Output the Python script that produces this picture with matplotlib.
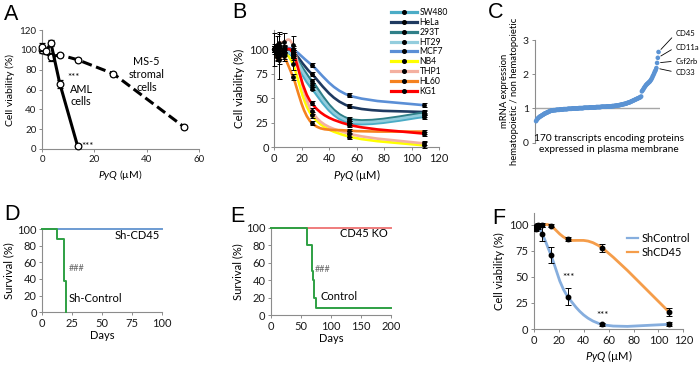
import numpy as np
import matplotlib
matplotlib.use('Agg')
import matplotlib.pyplot as plt
from matplotlib.path import Path
from matplotlib.patches import PathPatch

plt.rcParams['font.family'] = ['Lato', 'DejaVu Sans']
plt.rcParams['mathtext.fontset'] = 'custom'
plt.rcParams['mathtext.rm'] = 'Lato'
plt.rcParams['mathtext.it'] = 'Lato:italic'

# ---------------- data ----------------
# Panel A
aml_x = [0, 1.7, 3.4, 6.8, 13.6]
aml_y = [103, 99, 107, 66, 3]
aml_err = [4, 3, 3, 4, 2]
ms5_x = [0, 3.4, 6.8, 13.6, 27.2, 54.4]
ms5_y = [100, 93, 95, 90, 76, 22]
ms5_err = [3, 4, 2, 2, 2, 2]

# Panel B
b_dose = [0, 1.7, 3.4, 6.8, 13.6, 27.2, 54.4, 108.8]
b_names = ['SW480', 'HeLa', '293T', 'HT29', 'MCF7', 'NB4', 'THP1', 'HL60', 'KG1']
b_colors = ['#4BACC6', '#1F3A60', '#2F7F88', '#93CDDD', '#5B8FD6',
            '#FFFF00', '#F4B0A0', '#F5821F', '#FF0000']
b_sw480 = [100, 96, 94, 97, 92, 60, 25, 31]
b_hela = [100, 98, 102, 100, 98, 75, 42, 36]
b_293t = [100, 97, 100, 99, 96, 68, 29, 35]
b_ht29 = [100, 95, 97, 96, 94, 64, 27, 33]
b_mcf7 = [100, 102, 98, 100, 100, 84, 53, 43]
b_nb4 = [100, 96, 93, 96, 85, 33, 11, 2]
b_thp1 = [100, 104, 106, 107, 104, 37, 14, 4]
b_hl60 = [100, 92, 89, 93, 72, 25, 17, 16]
b_kg1 = [100, 101, 99, 98, 96, 45, 23, 14]
b_err_small = [3, 3, 4, 3, 3, 2, 2, 2]
b_err_nb4 = [17, 8, 23, 8, 6, 3, 3, 3]
b_err_thp1 = [5, 10, 12, 10, 10, 3, 3, 2]

# Panel C (170 transcripts, sorted ratio)
c_ratio = [0.63, 0.67, 0.70, 0.72, 0.74, 0.76, 0.77, 0.78, 0.80, 0.81, 0.82, 0.84, 0.85, 0.86,
           0.87, 0.88, 0.89, 0.90, 0.91, 0.92, 0.93,
           0.94, 0.94, 0.94, 0.95, 0.95, 0.95, 0.95, 0.96, 0.96, 0.96, 0.96, 0.96, 0.97, 0.97,
           0.97, 0.97, 0.97, 0.98, 0.98, 0.98, 0.98, 0.98, 0.98, 0.99, 0.99, 0.99, 0.99, 0.99,
           0.99, 1.00, 1.00, 1.00, 1.00, 1.00, 1.00, 1.00, 1.00,
           1.00, 1.01, 1.01, 1.01, 1.01, 1.01, 1.01, 1.01, 1.02, 1.02, 1.02, 1.02, 1.02, 1.02,
           1.02, 1.02, 1.03, 1.03, 1.03, 1.03, 1.03, 1.03, 1.03,
           1.03, 1.03, 1.04, 1.04, 1.04, 1.04, 1.04, 1.04, 1.04, 1.05, 1.05, 1.05, 1.05, 1.05,
           1.05, 1.05, 1.05, 1.06, 1.06, 1.06, 1.06, 1.06, 1.06,
           1.06, 1.07, 1.07, 1.07, 1.07, 1.08, 1.08, 1.08, 1.09, 1.09, 1.09, 1.10, 1.10,
           1.11, 1.11, 1.12, 1.12, 1.13, 1.13, 1.14, 1.14, 1.15, 1.16,
           1.17, 1.17, 1.18, 1.19, 1.20, 1.21, 1.22, 1.23, 1.24,
           1.25, 1.26, 1.27, 1.28, 1.29, 1.30, 1.31, 1.32, 1.33, 1.35,
           1.50, 1.53, 1.56, 1.60, 1.63, 1.66, 1.69, 1.71, 1.73, 1.75, 1.77, 1.79, 1.82, 1.85,
           1.89, 1.94, 1.98, 2.03, 2.08, 2.12,
           2.18, 2.33, 2.48, 2.65]
c_labels = ['CD33', 'Csf2rb', 'CD11a', 'CD45']
c_label_idx = [166, 167, 168, 169]

# Panel D
d_ctrl_days = [0, 12.5, 18.3, 19.5]
d_ctrl_surv = [100, 87.5, 37.5, 0]
d_cd45_days = [0, 100]
d_cd45_surv = [100, 100]

# Panel E
e_ctrl_days = [0, 60, 68, 70, 72, 75, 200]
e_ctrl_surv = [100, 80, 50, 40, 20, 8, 8]
e_ko_days = [0, 200]
e_ko_surv = [100, 100]

# Panel F
f_dose = [1.7, 3.4, 6.8, 13.6, 27.2, 54.4, 108.8]
f_shctrl = [96, 98, 91, 71, 31, 4.5, 4.5]
f_shctrl_err = [2, 2, 7, 8, 8, 1.5, 2]
f_shcd45 = [99, 100, 100, 99, 86, 78, 16]
f_shcd45_err = [1, 2, 2, 1.5, 2, 4, 4]

# ---------------- helpers ----------------
W, H = 700, 370
fig = plt.figure(figsize=(7, 3.7), dpi=100)
TXT = '#1a1a1a'


def add_ax(l, t, r, b):
    return fig.add_axes([l / W, 1 - b / H, (r - l) / W, (b - t) / H])


def style(ax, size=7):
    for s in ['top', 'right']:
        ax.spines[s].set_visible(False)
    for s in ['left', 'bottom']:
        ax.spines[s].set_color('#8C8C8C')
        ax.spines[s].set_linewidth(0.8)
    ax.tick_params(direction='out', length=2.5, width=0.7, color='#8C8C8C',
                   labelsize=size, pad=1.5, labelcolor=TXT)


def smooth_line(ax, x, y, color, lw, z=2):
    P = np.column_stack([x, y]).astype(float)
    verts = [P[0]]
    codes = [Path.MOVETO]
    n = len(P)
    for i in range(n - 1):
        p0 = P[i - 1] if i > 0 else P[i]
        p1, p2 = P[i], P[i + 1]
        p3 = P[i + 2] if i + 2 < n else P[i + 1]
        verts += [p1 + (p2 - p0) / 6, p2 - (p3 - p1) / 6, p2]
        codes += [Path.CURVE4] * 3
    patch = PathPatch(Path(verts, codes), fill=False, edgecolor=color, lw=lw,
                      zorder=z, capstyle='round', joinstyle='round')
    ax.add_patch(patch)


def panel_letter(x, y, s):
    fig.text(x / W, 1 - y / H, s, fontsize=15.5, family='Liberation Sans',
             ha='left', va='center')


pyq = r'$\mathit{PyQ}$ (µM)'

# ---------------- A ----------------
axA = add_ax(42, 30, 199, 149)
style(axA, 7)
axA.errorbar(ms5_x, ms5_y, yerr=ms5_err, color='k', lw=2.2, ls=(0, (3.3, 1.5)),
             marker='o', mfc='white', mec='k', ms=4.8, mew=0.9, capsize=2,
             elinewidth=0.7, capthick=0.7, clip_on=False, zorder=3)
axA.errorbar(aml_x, aml_y, yerr=aml_err, color='k', lw=2.2, marker='o', mfc='white',
             mec='k', ms=4.8, mew=0.9, capsize=2, elinewidth=0.7, capthick=0.7,
             clip_on=False, zorder=4)
axA.set_xlim(0, 60)
axA.set_ylim(0, 120)
axA.set_xticks([0, 20, 40, 60])
axA.set_yticks(range(0, 121, 20))
axA.set_xlabel(pyq, fontsize=7.5, labelpad=3)
axA.set_ylabel('Cell viability (%)', fontsize=7.5, labelpad=3)
axA.text(9.8, 72, '***', fontsize=7, ha='left', va='center')
axA.text(15.2, 3, '***', fontsize=7, ha='left', va='center')
axA.text(15, 54, 'AML\ncells', fontsize=7.8, ha='center', va='center', linespacing=1.2)
axA.text(40, 75, 'MS-5\nstromal\ncells', fontsize=7.8, ha='center', va='center',
         linespacing=1.2)
panel_letter(4, 15, 'A')

# ---------------- B ----------------
axB = add_ax(274.3, 29.7, 439, 147.3)
style(axB, 8)
b_series = [b_sw480, b_hela, b_293t, b_ht29, b_mcf7, b_nb4, b_thp1, b_hl60, b_kg1]
b_errs = [b_err_small, b_err_small, b_err_small, b_err_small, b_err_small,
          b_err_nb4, b_err_thp1, b_err_small, b_err_small]
handles = []
for name, col, vals, err in zip(b_names, b_colors, b_series, b_errs):
    smooth_line(axB, b_dose, vals, col, 1.9)
    axB.errorbar(b_dose, vals, yerr=err, fmt='o', color='k', ms=2.4, elinewidth=0.7,
                 capsize=1.8, capthick=0.7, clip_on=False, zorder=4)
    h, = axB.plot([], [], color=col, lw=2.3, marker='o', mfc='k', mec='k', ms=2.6)
    handles.append(h)
axB.set_xlim(0, 120)
axB.set_ylim(0, 120)
axB.set_xticks(range(0, 121, 20))
axB.set_yticks([0, 25, 50, 75, 100])
axB.set_xlabel(pyq, fontsize=8, labelpad=2)
axB.set_ylabel('Cell viability (%)', fontsize=8.3, labelpad=3)
axB.legend(handles, b_names, loc='upper left', bbox_to_anchor=(391 / W, 1 - 8 / H),
           bbox_transform=fig.transFigure, frameon=False, fontsize=6.2,
           handlelength=3.0, handletextpad=0.3, labelspacing=0.1, borderpad=0,
           borderaxespad=0)
panel_letter(232, 13, 'B')

# ---------------- C ----------------
axC = add_ax(535, 40, 660, 142.7)
for s in ['top', 'right', 'bottom']:
    axC.spines[s].set_visible(False)
axC.spines['left'].set_color('#8C8C8C')
axC.spines['left'].set_linewidth(0.8)
axC.tick_params(axis='y', direction='out', length=2.5, width=0.7, color='#8C8C8C',
                labelsize=7.5, pad=2, labelcolor=TXT)
axC.tick_params(axis='x', bottom=False, labelbottom=False)
c_idx = np.arange(len(c_ratio))
axC.axhline(1, color='#A6A6A6', lw=1.0, zorder=1)
axC.scatter(c_idx, c_ratio, s=11, color='#5B93D3', edgecolors='none', zorder=3,
            clip_on=False)
axC.set_xlim(-1.5, 171)
axC.set_ylim(0, 3)
axC.set_yticks([0, 1, 2, 3])
axC.set_ylabel('mRNA expression\nhematopoietic / non hematopoietic', fontsize=6.8,
               labelpad=3, linespacing=1.1)
axC.text(0.59, -0.01, '170 transcripts encoding proteins\nexpressed in plasma membrane',
         transform=axC.transAxes, fontsize=7.3, ha='center', va='center',
         linespacing=1.25)
c_text_y = {'CD45': 33.3, 'CD11a': 47, 'Csf2rb': 61, 'CD33': 72.3}
for lab, i in zip(c_labels, c_label_idx):
    axC.annotate(lab, xy=(c_idx[i], c_ratio[i]), xytext=(676, H - c_text_y[lab]),
                 textcoords='figure pixels', fontsize=5.5, ha='left', va='center',
                 arrowprops=dict(arrowstyle='-', color='k', lw=0.6, shrinkA=1.5,
                                 shrinkB=2.5, relpos=(0, 0.5)))
panel_letter(488, 13, 'C')

# ---------------- D ----------------
axD = add_ax(42.3, 229, 162.3, 312.3)
style(axD, 8)
axD.plot(d_cd45_days, d_cd45_surv, color='#6C9BD2', lw=1.4, clip_on=False, zorder=3)
axD.step(d_ctrl_days, d_ctrl_surv, where='post', color='#2EA043', lw=1.4,
         clip_on=False, zorder=4)
axD.set_xlim(0, 100)
axD.set_ylim(0, 100)
axD.set_xticks([0, 25, 50, 75, 100])
axD.set_yticks(range(0, 101, 20))
axD.set_xlabel('Days', fontsize=8, labelpad=1)
axD.set_ylabel('Survival (%)', fontsize=8, labelpad=2)
axD.text(98, 92, 'Sh-CD45', fontsize=8, ha='right', va='center')
axD.text(22.3, 16, 'Sh-Control', fontsize=8, ha='left', va='center')
axD.text(22.3, 52, '###', fontsize=6.5, color='#666666', ha='left', va='center')
panel_letter(4, 215, 'D')

# ---------------- E ----------------
axE = add_ax(271, 227.7, 391, 315)
style(axE, 8)
axE.plot(e_ko_days, e_ko_surv, color='#EF7C7C', lw=1.4, clip_on=False, zorder=3)
axE.step(e_ctrl_days, e_ctrl_surv, where='post', color='#2EA043', lw=1.4,
         clip_on=False, zorder=4)
axE.set_xlim(0, 200)
axE.set_ylim(0, 100)
axE.set_xticks([0, 50, 100, 150, 200])
axE.set_yticks(range(0, 101, 20))
axE.set_xlabel('Days', fontsize=8, labelpad=1)
axE.set_ylabel('Survival (%)', fontsize=8, labelpad=2)
axE.text(194, 92.8, 'CD45 KO', fontsize=8, ha='right', va='center')
axE.text(82.8, 21, 'Control', fontsize=8, ha='left', va='center')
axE.text(73, 52, '###', fontsize=6.5, color='#666666', ha='left', va='center')
panel_letter(230, 216, 'E')

# ---------------- F ----------------
axF = add_ax(534, 213.3, 683.3, 329)
style(axF, 8)
smooth_line(axF, f_dose, f_shctrl, '#86AEDE', 2.0)
smooth_line(axF, f_dose, f_shcd45, '#F59D4A', 2.0)
axF.errorbar(f_dose, f_shctrl, yerr=f_shctrl_err, fmt='o', color='k', ms=3.2,
             elinewidth=0.7, capsize=2, capthick=0.7, zorder=4)
axF.errorbar(f_dose, f_shcd45, yerr=f_shcd45_err, fmt='o', color='k', ms=3.2,
             elinewidth=0.7, capsize=2, capthick=0.7, zorder=4)
hc, = axF.plot([], [], color='#86AEDE', lw=1.6)
ho, = axF.plot([], [], color='#F59D4A', lw=1.6)
axF.legend([hc, ho], ['ShControl', 'ShCD45'], loc='upper left',
           bbox_to_anchor=(0.62, 0.83), frameon=False, fontsize=7.8, handlelength=1.1,
           handletextpad=0.3, labelspacing=0.25, borderpad=0, borderaxespad=0)
axF.set_xlim(0, 120)
axF.set_ylim(0, 111)
axF.set_xticks(range(0, 121, 20))
axF.set_yticks([0, 25, 50, 75, 100])
axF.set_xlabel(pyq, fontsize=8, labelpad=2)
axF.set_ylabel('Cell viability (%)', fontsize=8, labelpad=3)
axF.text(27.6, 49, '***', fontsize=7, ha='center', va='center')
axF.text(55.2, 13, '***', fontsize=7, ha='center', va='center')
panel_letter(492, 219, 'F')

fig.savefig('out.png', dpi=100)
